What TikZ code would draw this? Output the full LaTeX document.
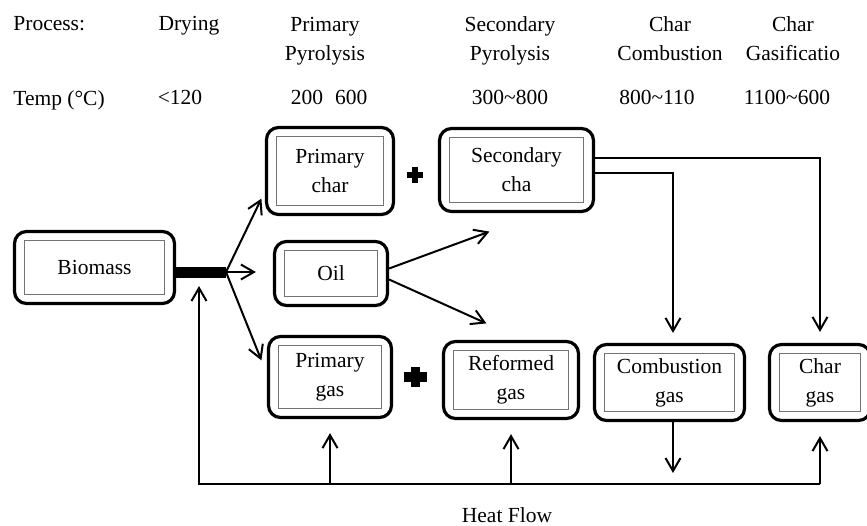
\documentclass[tikz,border=0pt]{standalone}
\usepackage{fontspec}
\setmainfont{Liberation Serif}
\usetikzlibrary{arrows.meta,calc}
\tikzset{
	stage/.style={draw, line width=1.6pt, rounded corners=6pt, align=center, inner sep=0pt,
		path picture={\draw[black!55, line width=0.5pt, sharp corners]
			([shift={(5pt,4.5pt)}]path picture bounding box.south west) rectangle
			([shift={(-5pt,-4.5pt)}]path picture bounding box.north east);}},
	head/.style={inner sep=0pt, align=center},
	flow/.style={->, line width=1pt},
	link/.style={line width=1pt}
}

\begin{document}
\begin{tikzpicture}[x=0.5pt, y=-0.5pt, font=\fontsize{10.75}{14.5}\selectfont,
	>={Straight Barb[length=6.5pt,width=7.5pt]}]
	\useasboundingbox (0,0) rectangle (867,525);
	% process row
	\node[head, anchor=base west] (proc) at (13,30.5) {Process:};
	\node[head, anchor=base] (dry) at (189,30.5) {Drying};
	\node[head, anchor=north] (ppyr) at (325,16.5) {Primary\\Pyrolysis};
	\node[head, anchor=north] (spyr) at (510,16.5) {Secondary\\Pyrolysis};
	\node[head, anchor=north] (ccomb) at (670,16.5) {Char\\Combustion};
	\node[head, anchor=north] (cgasif) at (793,16.5) {Char\\Gasificatio};
	% temperature row
	\node[head, anchor=base west] (temp) at (13,105) {Temp (°C)};
	\node[head, anchor=base] (tdry) at (180,104) {<120};
	\node[head, anchor=base] (tppyr) at (329,104) {200\hspace{6pt}600};
	\node[head, anchor=base] (tspyr) at (510,104) {300\textasciitilde800};
	\node[head, anchor=base] (tcomb) at (657,104) {800\textasciitilde110};
	\node[head, anchor=base] (tgasif) at (787,104) {1100\textasciitilde600};

	% stages
	\node[stage, minimum width=80pt, minimum height=36pt] (bio) at (94.5,267.5) {Biomass};
	\node[stage, minimum width=63.5pt, minimum height=43.5pt] (pchar) at (330,171) {Primary\\char};
	\node[stage, minimum width=77pt, minimum height=41.5pt] (schar) at (516.5,170) {Secondary\\cha};
	\node[stage, minimum width=56.5pt, minimum height=32pt] (oil) at (331,273.5) {Oil};
	\node[stage, minimum width=61.5pt, minimum height=40.5pt] (pgas) at (330,377) {Primary\\gas};
	\node[stage, minimum width=67.5pt, minimum height=38.5pt] (rgas) at (511,380) {Reformed\\gas};
	\node[stage, minimum width=75pt, minimum height=38pt] (cgas) at (669.5,382.5) {Combustion\\gas};
	\node[stage, minimum width=50.5pt, minimum height=38pt] (chgas) at (820,382.5) {Char\\gas};

	% plus signs
	\node[minimum width=8pt, minimum height=8pt, inner sep=0pt] (plusc) at (415,175) {};
	\node[minimum width=11pt, minimum height=10pt, inner sep=0pt] (plusg) at (415.5,377) {};
	\foreach \p/\w in {plusc/3.2pt, plusg/4.6pt}
		\draw[line width=\w] (\p.west) -- (\p.east) (\p.north) -- (\p.south);

	% biomass split
	\coordinate (split) at (226,272);
	\draw[line width=5.5pt] (bio.east |- split) -- (split);
	\draw[flow] (split) -- ([xshift=-1.75pt,yshift=8.75pt]pchar.south west);
	\draw[flow] (split) -- ([xshift=-8.5pt]oil.west |- split);
	\draw[flow] (split) -- ([xshift=-2.75pt,yshift=-12.75pt]pgas.north west);

	% oil
	\draw[flow] ([yshift=2.5pt]oil.east) -- ([xshift=25.75pt,yshift=-9.25pt]schar.south west);
	\draw[flow] ([yshift=-3pt]oil.east) -- ([xshift=22.25pt,yshift=8.25pt]rgas.north west);

	% secondary char
	\draw[flow, shorten >=5.5pt] ([yshift=6pt]schar.east) -| (chgas.north);
	\draw[flow, shorten >=5pt] ([yshift=-1.5pt]schar.east) -| ([xshift=1.75pt]cgas.north);
	\draw[flow, shorten >=5.5pt] ([xshift=1.75pt]cgas.south) -- ([xshift=1.75pt]cgas.south |- 0,484);

	% heat flow
	\coordinate (hl) at (199,484);
	\draw[flow] (chgas.south |- hl) -- (hl) -- ([yshift=-7pt]hl |- split);
	\foreach \n in {pgas,rgas,chgas}
		\draw[flow, shorten >=7pt] (\n.south |- hl) -- (\n.south);
	\node[head] (heat) at (507,515) {Heat Flow};
\end{tikzpicture}
\end{document}
